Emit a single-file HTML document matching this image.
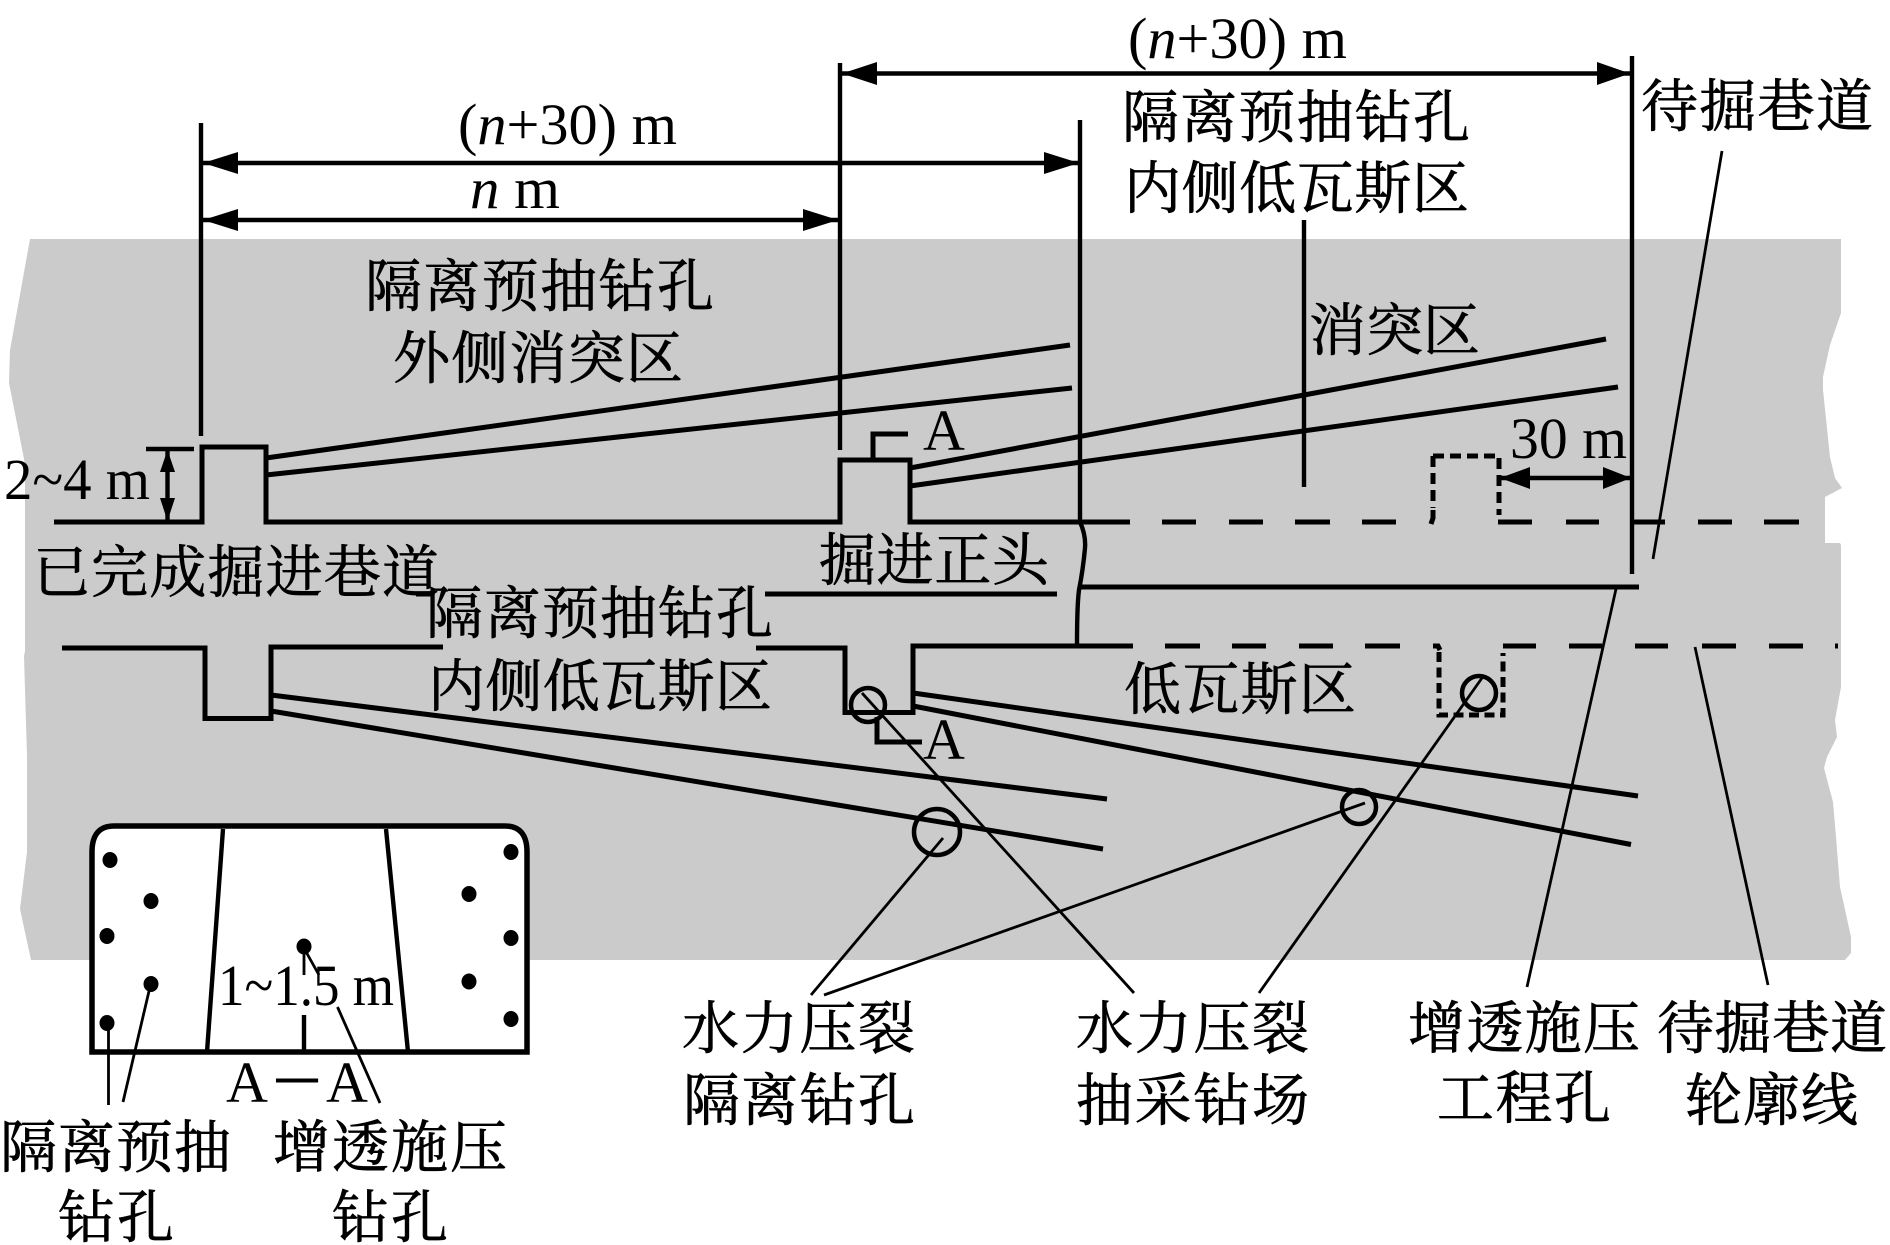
<!DOCTYPE html>
<html><head><meta charset="utf-8"><style>
html,body{margin:0;padding:0;background:#fff}
svg{display:block}
.c{font-family:"Liberation Serif","Noto Serif CJK SC",serif;font-size:57px;fill:#000;stroke:#000;stroke-width:.7}
.l{font-family:"Liberation Serif",serif;font-size:58px;fill:#000}
.i{font-style:italic}
.t{stroke:#000;stroke-width:5;fill:none}
.m{stroke:#000;stroke-width:4.4;fill:none}
.n{stroke:#000;stroke-width:2.8;fill:none}
</style></head><body>
<svg width="1890" height="1245" viewBox="0 0 1890 1245" xmlns="http://www.w3.org/2000/svg">
<path fill="#cbcbcb" d="M30 239H1841V313L1830 345L1823 377V390L1830 457L1835 478L1842 488L1825 497V543H1840L1841 545V687L1835 720L1837 737L1827 757L1824 768L1833 802L1836 837L1840 887L1851 937V953L1845 960H31L20 909L27 852L27 756L24 656L25 651V464L9 383L10 350Z"/>

<!-- dimension verticals -->
<path class="m" d="M201 123V436M840 63V450M1080 120V522Q1086 535 1085 548Q1083 570 1079 590Q1077 605 1077 646M1632 56V574M1304 220V487"/>
<!-- dim lines -->
<path class="m" d="M201 163H1080M201 220H840M840 73.5H1632"/>
<g fill="#000">
<polygon points="203,163 238,152 238,174"/><polygon points="1079,163 1044,152 1044,174"/>
<polygon points="203,220 238,209 238,231"/><polygon points="838,220 803,209 803,231"/>
<polygon points="842,73.5 877,62 877,85"/><polygon points="1630,73.5 1597,62 1597,85"/>
<polygon points="167.5,450 160,472 175,472"/><polygon points="167.5,521 160,498 175,498"/>
<polygon points="1500,478 1530,467 1530,489"/><polygon points="1631,478 1603,467 1603,489"/>
</g>
<path class="m" d="M146 449H194M167.5 449V522M1500 478H1631"/>

<!-- upper tunnel -->
<path class="t" d="M54 522H202V447H266V522H840V460H910V522H1130"/>
<path class="t" d="M1162 522H1196M1229 522H1263M1295 522H1330M1362 522H1396M1498 522H1532M1566 522H1599M1632 522H1665M1698 522H1732M1764 522H1799"/>
<path class="t" stroke-dasharray="11 6" d="M1433 456H1499M1433 456V508M1499 458V515"/>
<path class="t" d="M1433 510V518L1431 524"/>
<!-- lower tunnel -->
<path class="t" d="M62 648H205V718.5H271V647H443M756 648H845V712.5H913V646H1133"/>
<path class="t" d="M1165 646H1200M1232 646H1266M1299 646H1333M1365 646H1400M1503 646H1536M1569 646H1602M1635 646H1668M1702 646H1736M1769 646H1803M1835 646H1838"/>
<path class="t" d="M1433 646H1438L1440 650"/>
<path class="t" stroke-dasharray="10 5.5" d="M1439 652V715H1503V653"/>
<!-- middle wall -->
<path class="t" d="M1081 587H1639M765 594H1057M416 594H434"/>

<!-- boreholes -->
<path class="t" d="M266 458L1070 345M266 475L1072 388M910 468L1606 339M910 486L1618 387"/>
<path class="t" d="M271 695L1107 799M271 711L1103 849M913 693L1638 796M913 706L1631 844.5"/>

<!-- A markers -->
<path class="t" d="M873 460V434H908M877 717V742H922"/>
<text class="l" x="923" y="450">A</text>
<text class="l" x="923" y="759">A</text>

<!-- circles -->
<g fill="none" stroke="#000" stroke-width="4.5">
<circle cx="868" cy="705" r="17"/><circle cx="937" cy="832" r="23"/>
<circle cx="1359" cy="807" r="17"/><circle cx="1479" cy="693" r="17"/>
</g>

<!-- leaders -->
<path class="n" d="M1722 151L1653 559M1616 589L1527 987M1695 647L1768 985M862 693L1134 993M1482 678L1259 993M943 838L811 995M1365 803L824 995"/>

<!-- inset -->
<path fill="#fff" stroke="#000" stroke-width="5.5" d="M92 1052V852Q92 826 114 826H505Q527 826 527 852V1052Z"/>
<path class="m" d="M223 829L207 1052M386 829L408 1052M304 1015V1052"/>
<g fill="#000">
<ellipse cx="110" cy="860" rx="7.5" ry="8"/><ellipse cx="151" cy="901" rx="7.5" ry="8"/>
<ellipse cx="107" cy="936" rx="7.5" ry="8"/><ellipse cx="151" cy="984" rx="7.5" ry="8"/>
<ellipse cx="107" cy="1023" rx="7.5" ry="8"/><ellipse cx="511" cy="852" rx="7.5" ry="8"/>
<ellipse cx="469" cy="894" rx="7.5" ry="8"/><ellipse cx="511" cy="938" rx="7.5" ry="8"/>
<ellipse cx="469" cy="981.5" rx="7.5" ry="8"/><ellipse cx="511" cy="1019" rx="7.5" ry="8"/>
<ellipse cx="304" cy="946.5" rx="7.5" ry="8"/>
</g>
<path class="n" d="M108.5 1027V1105M149.5 989L123 1102M305 950L319 975M304 950V975M337.5 1007L380 1103"/>

<!-- Latin labels -->
<text class="l" x="458" y="144" textLength="219" lengthAdjust="spacingAndGlyphs">(<tspan class="i">n</tspan>+30) m</text>
<text class="l" x="1128" y="58" textLength="219" lengthAdjust="spacingAndGlyphs">(<tspan class="i">n</tspan>+30) m</text>
<text class="l" x="470" y="208" textLength="90" lengthAdjust="spacingAndGlyphs"><tspan class="i">n</tspan> m</text>
<text class="l" x="4" y="499" textLength="146" lengthAdjust="spacingAndGlyphs">2~4 m</text>
<text class="l" x="1510" y="458" textLength="117" lengthAdjust="spacingAndGlyphs">30 m</text>
<text class="l" x="218" y="1005" textLength="176" lengthAdjust="spacingAndGlyphs">1~1.5 m</text>
<text class="l" x="226" y="1102" textLength="142" lengthAdjust="spacingAndGlyphs">A－A</text>

<!-- CJK labels -->
<text class="c" x="365" y="306" textLength="349">隔离预抽钻孔</text>
<text class="c" x="393" y="378" textLength="290">外侧消突区</text>
<text class="c" x="33" y="592" textLength="406">已完成掘进巷道</text>
<text class="c" x="426" y="633" textLength="347">隔离预抽钻孔</text>
<text class="c" x="428" y="706" textLength="344">内侧低瓦斯区</text>
<text class="c" x="1122" y="137" textLength="348">隔离预抽钻孔</text>
<text class="c" x="1124" y="208" textLength="345">内侧低瓦斯区</text>
<text class="c" x="1641" y="126" textLength="232">待掘巷道</text>
<text class="c" x="1309" y="350" textLength="171">消突区</text>
<text class="c" x="819" y="580" textLength="230">掘进正头</text>
<text class="c" x="1124" y="709" textLength="232">低瓦斯区</text>
<text class="c" x="682" y="1048" textLength="233">水力压裂</text>
<text class="c" x="683" y="1120" textLength="232">隔离钻孔</text>
<text class="c" x="1076" y="1048" textLength="233">水力压裂</text>
<text class="c" x="1076" y="1120" textLength="233">抽采钻场</text>
<text class="c" x="1408" y="1048" textLength="232">增透施压</text>
<text class="c" x="1437" y="1118" textLength="174">工程孔</text>
<text class="c" x="1657" y="1048" textLength="230">待掘巷道</text>
<text class="c" x="1685" y="1120" textLength="173">轮廓线</text>
<text class="c" x="0" y="1167" textLength="231">隔离预抽</text>
<text class="c" x="58" y="1237" textLength="116">钻孔</text>
<text class="c" x="273" y="1167" textLength="234">增透施压</text>
<text class="c" x="332" y="1237" textLength="116">钻孔</text>
</svg>
</body></html>
